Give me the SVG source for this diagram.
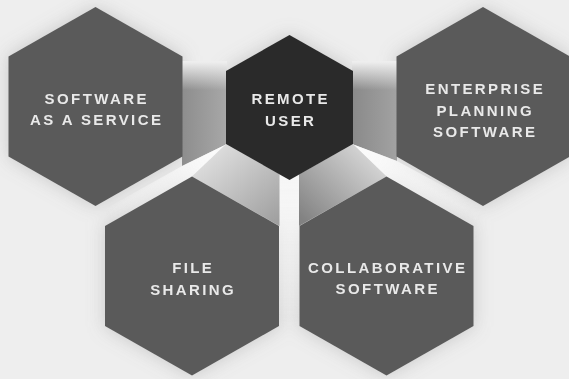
<svg xmlns="http://www.w3.org/2000/svg" width="569" height="379" viewBox="0 0 569 379">
  <style>
    .hex { fill: #5a5a5a; }
    .hex-dark { fill: #2a2a2a; }
    .halo { fill: #8f8f8f; opacity: 0.4; }
    .label { font-family: "Liberation Sans", Arial, sans-serif; font-size: 15px; font-weight: bold; letter-spacing: 2.4px; fill: #e9e9e9; text-anchor: middle; }
  </style>
  <defs>
    <filter id="soft" x="-30%" y="-30%" width="160%" height="160%">
      <feGaussianBlur stdDeviation="9"/>
    </filter>
    <linearGradient id="wallLeft" gradientUnits="userSpaceOnUse" x1="182" y1="0" x2="227" y2="0">
      <stop offset="0" stop-color="#8d8d8d"/>
      <stop offset="1" stop-color="#a8a8a8"/>
    </linearGradient>
    <linearGradient id="wallRight" gradientUnits="userSpaceOnUse" x1="353" y1="0" x2="397" y2="0">
      <stop offset="0" stop-color="#8a8a8a"/>
      <stop offset="1" stop-color="#a2a2a2"/>
    </linearGradient>
    <linearGradient id="wallTop" gradientUnits="userSpaceOnUse" x1="0" y1="62" x2="0" y2="90">
      <stop offset="0" stop-color="#eeeeee" stop-opacity="1"/>
      <stop offset="1" stop-color="#eeeeee" stop-opacity="0"/>
    </linearGradient>
    <linearGradient id="bridgeLeft" gradientUnits="userSpaceOnUse" x1="215" y1="150" x2="276" y2="222">
      <stop offset="0" stop-color="#dddddd"/>
      <stop offset="1" stop-color="#a0a0a0"/>
    </linearGradient>
    <linearGradient id="bridgeRight" gradientUnits="userSpaceOnUse" x1="305" y1="222" x2="368" y2="158">
      <stop offset="0" stop-color="#828282"/>
      <stop offset="1" stop-color="#d2d2d2"/>
    </linearGradient>
    <linearGradient id="gapLeft" gradientUnits="userSpaceOnUse" x1="226" y1="150" x2="105" y2="215">
      <stop offset="0" stop-color="#fbfbfb" stop-opacity="1"/>
      <stop offset="1" stop-color="#fbfbfb" stop-opacity="0"/>
    </linearGradient>
    <linearGradient id="gapRight" gradientUnits="userSpaceOnUse" x1="353" y1="150" x2="485" y2="215">
      <stop offset="0" stop-color="#fbfbfb" stop-opacity="1"/>
      <stop offset="1" stop-color="#fbfbfb" stop-opacity="0"/>
    </linearGradient>
    <linearGradient id="gapMid" gradientUnits="userSpaceOnUse" x1="0" y1="175" x2="0" y2="330">
      <stop offset="0" stop-color="#f7f7f7" stop-opacity="1"/>
      <stop offset="1" stop-color="#f7f7f7" stop-opacity="0"/>
    </linearGradient>
  </defs>

  <!-- paper -->
  <rect width="569" height="379" fill="#eeeeee"/>

  <!-- soft shading around the cells -->
  <g id="shading" filter="url(#soft)">
    <polygon class="halo" points="95.5,7 182.5,56.5 182.5,156.5 95.5,206 8.5,156.5 8.5,56.5"/>
    <polygon class="halo" points="483,7 570,56.5 570,156.5 483,206 396.5,156.5 396.5,56.5"/>
    <polygon class="halo" points="289.5,35 353,71 353,144 289.5,180 226,144 226,71"/>
    <polygon class="halo" points="192,176.5 279,226 279,326 192,375.5 105,326 105,226"/>
    <polygon class="halo" points="386.5,176.5 473.5,226 473.5,326 386.5,375.5 299.5,326 299.5,226"/>
  </g>

  <!-- bridges linking the centre cell to its neighbours -->
  <g id="connectors">
    <polygon points="182,62 227,62 227,144 182,166" fill="url(#wallLeft)"/>
    <polygon points="182,61 227,61 227,90 182,90" fill="url(#wallTop)"/>
    <polygon points="352,62 397,62 397,161 352,144" fill="url(#wallRight)"/>
    <polygon points="352,61 397,61 397,90 352,90" fill="url(#wallTop)"/>
    <polygon points="227,144 182,166 100,212 118,222 192,176.5" fill="url(#gapLeft)"/>
    <polygon points="352,144 397,161 488,210 473.5,226 386.5,176.5" fill="url(#gapRight)"/>
    <polygon points="278,170 300,170 300,340 278,340" fill="url(#gapMid)"/>
    <polygon points="226,144 279.5,174 279.5,226 192,176.5" fill="url(#bridgeLeft)"/>
    <polygon points="299,174.3 353,144 386.5,176.5 299,226" fill="url(#bridgeRight)"/>
  </g>

  <g id="software-as-a-service">
    <polygon class="hex" points="95.5,7 182.5,56.5 182.5,156.5 95.5,206 8.5,156.5 8.5,56.5"/>
    <text class="label" x="96.7" y="104">SOFTWARE</text>
    <text class="label" x="96.7" y="125">AS A SERVICE</text>
  </g>

  <g id="remote-user">
    <polygon class="hex-dark" points="289.5,35 353,71 353,144 289.5,180 226,144 226,71"/>
    <text class="label" x="290.7" y="104">REMOTE</text>
    <text class="label" x="290.7" y="126">USER</text>
  </g>

  <g id="enterprise-planning-software">
    <polygon class="hex" points="483,7 570,56.5 570,156.5 483,206 396.5,156.5 396.5,56.5"/>
    <text class="label" x="485.2" y="94">ENTERPRISE</text>
    <text class="label" x="485.2" y="116">PLANNING</text>
    <text class="label" x="485.2" y="137">SOFTWARE</text>
  </g>

  <g id="file-sharing">
    <polygon class="hex" points="192,176.5 279,226 279,326 192,375.5 105,326 105,226"/>
    <text class="label" x="193.2" y="273">FILE</text>
    <text class="label" x="193.2" y="295">SHARING</text>
  </g>

  <g id="collaborative-software">
    <polygon class="hex" points="386.5,176.5 473.5,226 473.5,326 386.5,375.5 299.5,326 299.5,226"/>
    <text class="label" x="387.7" y="273">COLLABORATIVE</text>
    <text class="label" x="387.7" y="294">SOFTWARE</text>
  </g>
</svg>
